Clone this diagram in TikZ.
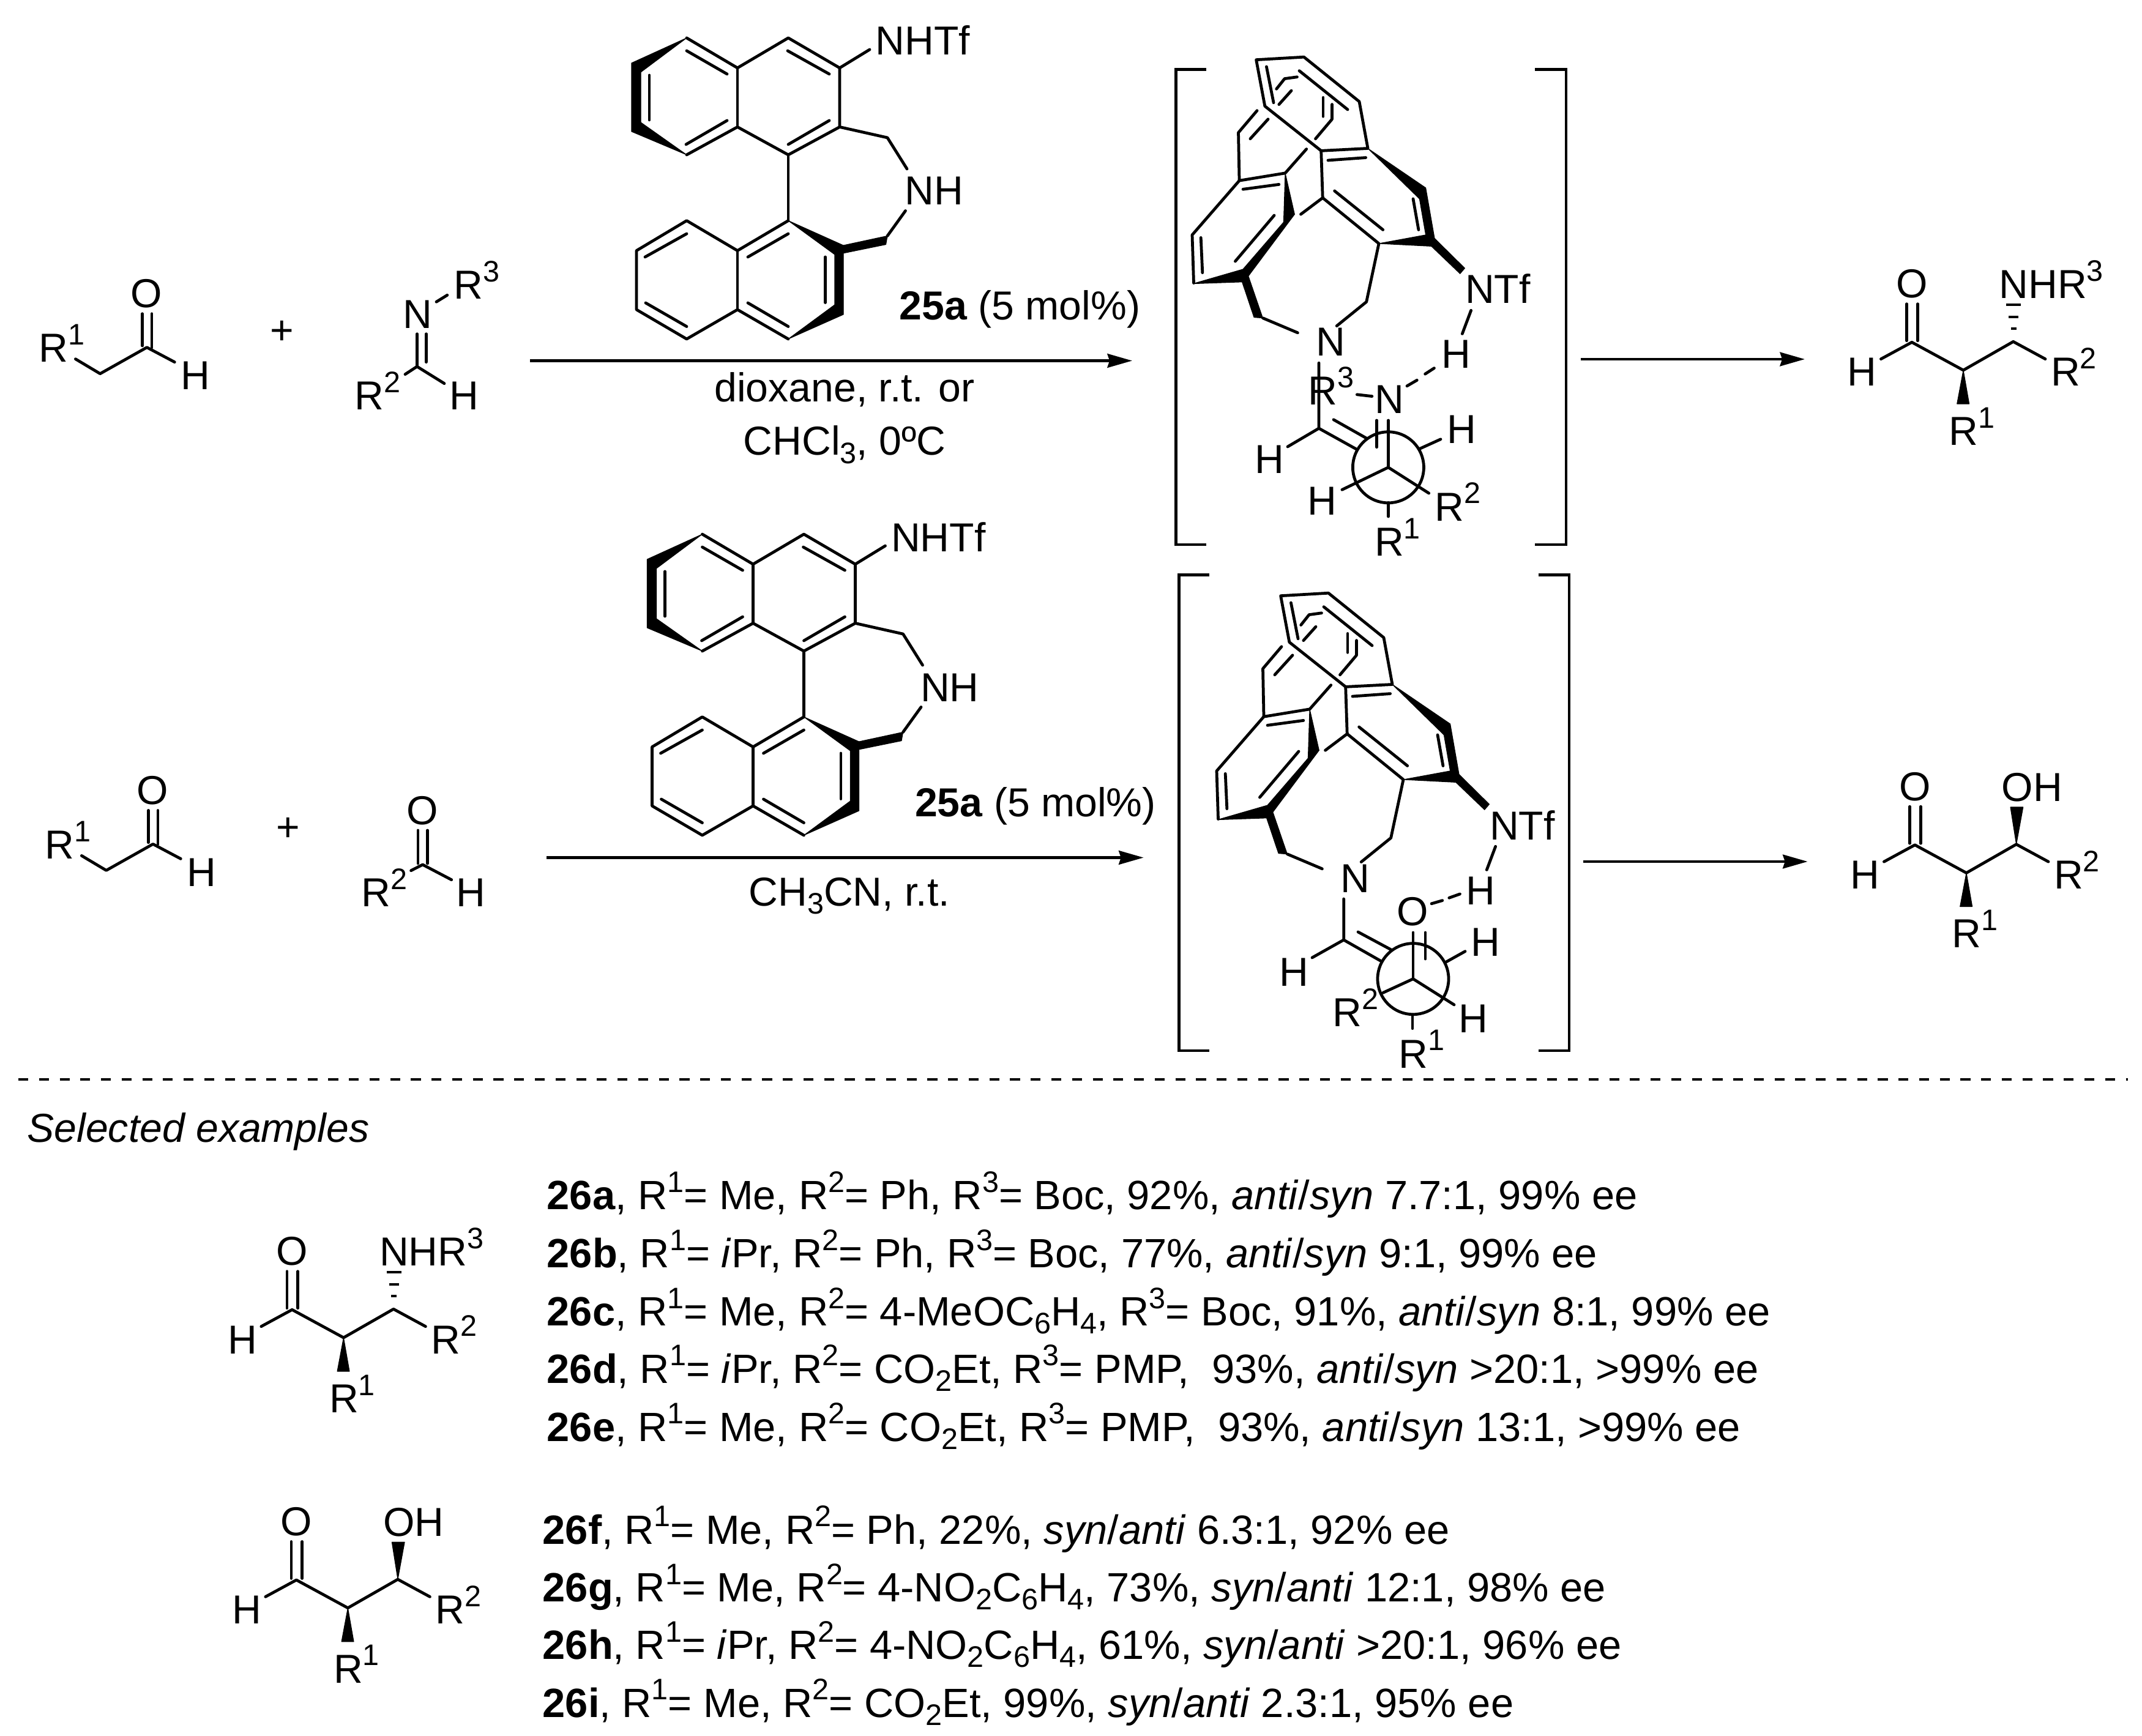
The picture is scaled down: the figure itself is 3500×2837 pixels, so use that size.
\documentclass[tikz,border=0pt]{standalone}
\usepackage{fontspec}
\setmainfont{Liberation Sans}
\usetikzlibrary{arrows.meta}

\newcommand{\up}[1]{\raisebox{8pt}{\fontsize{13.8}{14}\selectfont #1}}
\newcommand{\dn}[1]{\raisebox{-3.7pt}{\fontsize{13.8}{14}\selectfont #1}}

\tikzset{
  bond/.style={line width=1.35pt, line cap=round, line join=round},
  bold/.style={fill=black, draw=black, line width=0.3pt, line join=round},
  hash/.style={line width=1.1pt},
  brk/.style={line width=1.4pt},
  arr/.style={line width=1.35pt, -{Stealth[length=11.5pt, width=6.4pt, inset=1pt]}},
  lab/.style={inner sep=0pt, anchor=base west, font=\fontsize{18.8}{22}\selectfont},
  labc/.style={lab, anchor=base},
  labx/.style={lab, font=\fontsize{19}{22}\selectfont},
  newman/.style={circle, draw, line width=1.35pt, inner sep=0pt, minimum size=1.16cm}
}

% catalyst, drawn where the first one stands
\newcommand{\catalyst}{
\coordinate (a1) at (1122,62); \coordinate (a2) at (1205,111); \coordinate (a3) at (1288,62); \coordinate (a4) at (1372,111);
\coordinate (a5) at (1372,207.5); \coordinate (a6) at (1288,253); \coordinate (a7) at (1205,207.5); \coordinate (a8) at (1122,253);
\coordinate (a9) at (1040,207.5); \coordinate (a10) at (1040,111); \coordinate (ch1) at (1450,225);
\coordinate (b1) at (1288,360.6); \coordinate (b2) at (1205,409.6); \coordinate (b3) at (1122,360.6); \coordinate (b4) at (1040,409.6);
\coordinate (b5) at (1040,506); \coordinate (b6) at (1122,554); \coordinate (b7) at (1205,506); \coordinate (b8) at (1288,554);
\coordinate (ch2) at (1450,385.5);
\node[lab] (nhtf) at (1430,90) {NHTf};
\node[lab] (nh) at (1478,335) {NH};
\node[lab] (load) at (1469,523) {\textbf{25a} (5 mol\%)};
\coordinate (nhtfb) at (1421,81); \coordinate (nhu) at (1482,276); \coordinate (nhd) at (1479.5,344.5);
\fill[bold] (a1) -- (1032,103) -- (1032,215) -- (a8) -- (1047,200) -- (1047,118) -- cycle;
\fill[bold] (b1) -- (1378,401) -- (1378,514) -- (b8) -- (1364,498) -- (1364,416) -- cycle;
\fill[bold] (1378,401) -- (ch2) -- (1447.5,399.6) -- (1377,414) -- cycle;
\draw[bond] (a1) -- (a2) -- (a3) -- (a4) -- (a5) -- (a6) -- (a7) -- (a8);
\draw[bond] (a2) -- (a7); \draw[bond] (a4) -- (nhtfb); \draw[bond] (a5) -- (ch1) -- (nhu); \draw[bond] (a6) -- (b1);
\draw[bond] (nhd) -- (ch2);
\draw[bond] (b1) -- (b2) -- (b3) -- (b4) -- (b5) -- (b6) -- (b7) -- (b8);
\draw[bond] (b2) -- (b7);
\draw[bond] (1122,83) -- (1188,121); \draw[bond] (1287,83) -- (1355,121); \draw[bond] (1061,123) -- (1061,196);
\draw[bond] (1121,236) -- (1188,197); \draw[bond] (1288,236) -- (1355,197);
\draw[bond] (1054,420) -- (1122,382); \draw[bond] (1222,420) -- (1288,382); \draw[bond] (1348.4,420) -- (1348.4,494.5);
\draw[bond] (1055,495) -- (1122,533.6); \draw[bond] (1222,495) -- (1288,533.6);
}

% cage and tether of the intermediate, down to N and the NH of NTf
\newcommand{\cage}{
\coordinate (t1) at (2052.6,97.7); \coordinate (t2) at (2130.6,93.2); \coordinate (t3) at (2221,166);
\coordinate (t4) at (2235,242.5); \coordinate (t5) at (2158.7,246.4); \coordinate (t6) at (2066.8,173.5);
\coordinate (u1) at (2161.2,323.3); \coordinate (u2) at (2253,398); \coordinate (u3) at (2232.7,493.3); \coordinate (nu) at (2184.2,532.6);
\coordinate (v1) at (2054,180.8); \coordinate (v2) at (2023.5,216.7); \coordinate (v3) at (2025,295.2); \coordinate (v4) at (2100,282.9);
\coordinate (v5) at (2134.7,243.6); \coordinate (v6) at (1948,383.9); \coordinate (v7) at (1950.5,462.5);
\coordinate (w1) at (2063.3,519.7); \coordinate (nw) at (2120.4,543.8);
\coordinate (ntfd) at (2403.6,507.4); \coordinate (hu) at (2389.3,545.5);
\node[lab] (n) at (2149.6,582) {N};
\node[lab] (ntf) at (2393.5,496) {NTf};
\node[lab] (h) at (2355,602) {H};
\fill[bold] (t4) -- (2329.6,307) -- (2344,389.5) -- (2393.4,438.3) -- (2385.7,447.3) -- (2338.8,402.4) -- (u2) -- (2329.6,383.9) -- (2319.4,325) -- cycle;
\fill[bold] (2115.3,350.2) -- (2039.8,451.2) -- (w1) -- (2049,518.6) -- (2029.6,460.8) -- (1949.5,463.6) -- (2031,440) -- (2097.4,363.1) -- (v4) -- cycle;
\draw[bond] (t1) -- (t2) -- (t3) -- (t4) -- (t5) -- (t6) -- cycle;
\draw[bond] (2069.4,109) -- (2081,167.8); \draw[bond] (2123,115.7) -- (2202,179);
\draw[bond] (2085.7,145.4) -- (2099,128.6) -- (2119.4,125.8); \draw[bond] (2089.8,170.7) -- (2110,148.2);
\draw[bond] (2162,159.4) -- (2162,190.3); \draw[bond] (2176.5,170.6) -- (2176.5,194.8) -- (2149.5,226.8);
\draw[bond] (v1) -- (v2) -- (v3) -- (v4) -- (v5); \draw[bond] (2072,194.8) -- (2042.9,226.8);
\draw[bond] (2031,309.3) -- (2089.8,301.4); \draw[bond] (v3) -- (v6) -- (v7);
\draw[bond] (1962.2,388.4) -- (1964.8,445.6); \draw[bond] (2082,352) -- (2018.4,427);
\draw[bond] (t5) -- (u1) -- (2125.5,350.2); \draw[bond] (u1) -- (u2) -- (u3) -- (nu); \draw[bond] (w1) -- (nw);
\draw[bond] (2180.6,312) -- (2259.7,375.5); \draw[bond] (2170,262) -- (2231.6,257.6); \draw[bond] (2309,325) -- (2317.9,375.5);
\draw[bond] (ntfd) -- (hu);
}

% beta-functionalised aldehyde without its group on C3
\newcommand{\aldol}{
\coordinate (c1) at (3123.9,559.3); \coordinate (c2) at (3208,605); \coordinate (c3) at (3289.6,558.3);
\coordinate (hb) at (3073.4,586.7); \coordinate (r2b) at (3342,586.7);
\node[labc] (o) at (3124,486.5) {O};
\node[lab] (h) at (3018,631) {H};
\node[lab] (r2) at (3350.4,631) {R\up{2}};
\node[lab] (r1) at (3184,727.3) {R\up{1}};
\fill[bold] (c2) -- (3217.6,660) -- (3197.7,660) -- cycle;
\draw[bond] (hb) -- (c1) -- (c2) -- (c3) -- (r2b);
\draw[bond] (3115.5,496.7) -- (3115.5,556.7); \draw[bond] (3133.4,496.7) -- (3133.4,556.7);
}
\newcommand{\aldolamine}{
\aldol
\node[lab] (nhr) at (3266,487.3) {NHR\up{3}};
\draw[hash] (3278.4,497.7) -- (3302.4,497.7); \draw[hash] (3282.4,518.3) -- (3298.4,518.3); \draw[hash] (3285.8,537.3) -- (3295,537.3);
}
\newcommand{\aldolol}{
\aldol
\node[lab] (oh) at (3265,487.8) {OH};
\fill[bold] (c3) -- (3300.7,497.5) -- (3280,497.5) -- cycle;
}

\begin{document}
\begin{tikzpicture}[x=0.01cm, y=-0.01cm]
\useasboundingbox (0,0) rectangle (3500,2837);

% first row
\node[lab] (ra) at (63,591.7) {R\up{1}};
\node[labc] (oa) at (239.4,502.5) {O};
\node[lab] (ha) at (295,636.7) {H};
\coordinate (ca1) at (123.4,586.7); \coordinate (ca2) at (163.6,610.7); \coordinate (ca3) at (240,567.7); \coordinate (ca4) at (285.3,591.7);
\draw[bond] (ca1) -- (ca2) -- (ca3) -- (ca4);
\draw[bond] (232.5,512.7) -- (232.5,565); \draw[bond] (248,512.7) -- (248,568);
\node[labc] (plusa) at (461,562.6) {+};
\node[lab] (im) at (658,536.7) {N};
\node[lab] (imr3) at (741,488.3) {R\up{3}};
\node[lab] (imr2) at (579,670) {R\up{2}};
\node[lab] (imh) at (734,670) {H};
\coordinate (ib1) at (713,493.3); \coordinate (ib2) at (730.8,482.3); \coordinate (ic) at (681.4,599); \coordinate (ib3) at (662,611.7); \coordinate (ib4) at (726,626.7);
\draw[bond] (ib1) -- (ib2); \draw[bond] (ib3) -- (ic) -- (ib4);
\draw[bond] (681.4,545.7) -- (681.4,598.3); \draw[bond] (696.3,545.7) -- (696.3,591.7);
\catalyst
\coordinate (ar1s) at (866,589.5); \coordinate (ar1e) at (1850,589.5);
\draw[arr] (ar1s) -- (ar1e);
\node[labc] (cona) at (1380,656.7) {dioxane, r.t. or};
\node[labc] (conb) at (1380,744) {CHCl\dn{3}, 0ºC};

\draw[brk] (1971,113.4) -- (1921.4,113.4) -- (1921.4,890) -- (1971,890);
\draw[brk] (2508,113.4) -- (2559,113.4) -- (2559,890) -- (2508,890);
\cage
\node[lab] (ts1n) at (2245.5,675.7) {N};
\node[lab] (ts1r) at (2137,661.7) {R\up{3}};
\node[lab] (ts1ha) at (2050,774) {H};
\node[lab] (ts1hb) at (2364,725) {H};
\node[lab] (ts1hc) at (2136,841) {H};
\node[lab] (ts1r2) at (2344,851) {R\up{2}};
\node[lab] (ts1r1) at (2245.5,908.6) {R\up{1}};
\node[newman] (ts1nm) at (2268.4,763.8) {};
\coordinate (ts1c) at (2155,700); \coordinate (ts1d) at (2155,593.2); \coordinate (ts1e) at (2104,730); \coordinate (ts1f) at (2217.3,734.6);
\draw[bond] (ts1d) -- (ts1c) -- (ts1e); \draw[bond] (ts1c) -- (ts1f); \draw[bond] (2179,685.8) -- (2233.7,716.7);
\draw[bond] (2249.5,687) -- (2249.5,730.7);
\draw[bond] (2217.3,644.8) -- (2241.8,647.6);
\draw[bond] (2343.4,601.6) -- (2328.6,611.2); \draw[bond] (2315.3,621.3) -- (2299,630.8);
\draw[bond] (ts1nm.center) -- (2268.4,687); \draw[bond] (ts1nm.center) -- (2334.7,806); \draw[bond] (ts1nm.center) -- (2192.9,800.3);
\draw[bond] (2319.4,733.5) -- (2354,717.8); \draw[bond] (2268.4,821.6) -- (2268.4,844);

\coordinate (ar3s) at (2583,587); \coordinate (ar3e) at (2949,587);
\draw[arr] (ar3s) -- (ar3e);
\begin{scope}[name prefix=pa-]
\aldolamine
\end{scope}

% second row
\begin{scope}[shift={(10,811.7)}, name prefix=rb-]
\node[lab] (ra) at (63,591.7) {R\up{1}};
\node[labc] (oa) at (239.4,502.5) {O};
\node[lab] (ha) at (295,636.7) {H};
\coordinate (ca1) at (123.4,586.7); \coordinate (ca2) at (163.6,610.7); \coordinate (ca3) at (240,567.7); \coordinate (ca4) at (285.3,591.7);
\draw[bond] (ca1) -- (ca2) -- (ca3) -- (ca4);
\draw[bond] (232.5,512.7) -- (232.5,565); \draw[bond] (248,512.7) -- (248,568);
\end{scope}
\node[labc] (plusb) at (470.7,1374.3) {+};
\node[labc] (alo) at (690.6,1347) {O};
\node[lab] (alr2) at (590,1481.7) {R\up{2}};
\node[lab] (alh) at (745,1481.7) {H};
\coordinate (alc) at (690.6,1413); \coordinate (alb) at (671.6,1422.7); \coordinate (ald) at (737.7,1437.7);
\draw[bond] (alb) -- (alc) -- (ald);
\draw[bond] (683,1357) -- (683,1411); \draw[bond] (698.6,1357) -- (698.6,1411);
\begin{scope}[shift={(25.5,811)}, name prefix=cb-]
\catalyst
\end{scope}
\coordinate (ar2s) at (893,1401.5); \coordinate (ar2e) at (1868.6,1401.5);
\draw[arr] (ar2s) -- (ar2e);
\node[lab] (conc) at (1223,1480) {CH\dn{3}CN, r.t.};

\draw[brk] (1975.6,939.5) -- (1926.3,939.5) -- (1926.3,1717) -- (1975.6,1717);
\draw[brk] (2513.7,939.5) -- (2564,939.5) -- (2564,1717) -- (2513.7,1717);
\begin{scope}[shift={(40,876)}, name prefix=tb-]
\cage
\end{scope}
\node[labc] (ts2o) at (2308.5,1512.5) {O};
\node[lab] (ts2ha) at (2090,1611) {H};
\node[lab] (ts2hb) at (2403,1562.6) {H};
\node[lab] (ts2hc) at (2383,1687) {H};
\node[lab] (ts2r2) at (2177,1677.5) {R\up{2}};
\node[lab] (ts2r1) at (2285,1745) {R\up{1}};
\node[newman] (ts2nm) at (2309,1599.7) {};
\coordinate (ts2c) at (2195.6,1536); \coordinate (ts2d) at (2195.6,1469); \coordinate (ts2e) at (2144,1565); \coordinate (ts2f) at (2256.3,1570.5);
\draw[bond] (ts2d) -- (ts2c) -- (ts2e); \draw[bond] (ts2c) -- (ts2f); \draw[bond] (2219,1523) -- (2273,1552);
\draw[bond] (2329,1524) -- (2329,1567);
\draw[bond] (2385.5,1461) -- (2367.8,1467.3); \draw[bond] (2356.8,1471.6) -- (2339,1476.8);
\draw[bond] (ts2nm.center) -- (2309,1524); \draw[bond] (ts2nm.center) -- (2376,1642); \draw[bond] (ts2nm.center) -- (2259.7,1622.4);
\draw[bond] (2363,1572) -- (2394,1554.7); \draw[bond] (2308,1658) -- (2308,1680.7);

\coordinate (ar4s) at (2587,1408); \coordinate (ar4e) at (2953.6,1408);
\draw[arr] (ar4s) -- (ar4e);
\begin{scope}[shift={(5,821.5)}, name prefix=pb-]
\aldolol
\end{scope}

% examples
\coordinate (dla) at (30,1764); \coordinate (dlb) at (3477,1764);
\draw[line width=1.2pt, dash pattern=on 4.6pt off 5pt] (dla) -- (dlb);
\node[lab] (sel) at (44,1866) {\itshape Selected examples};
\begin{scope}[shift={(-2646.6,1581)}, name prefix=pc-]
\aldolamine
\end{scope}
\begin{scope}[shift={(-2639.6,2022.7)}, name prefix=pd-]
\aldolol
\end{scope}
\node[labx] (ea) at (893,1976.7) {\textbf{26a}, R\up{1}= Me, R\up{2}= Ph, R\up{3}= Boc, 92\%, \emph{anti}/\emph{syn} 7.7:1, 99\% ee};
\node[labx] (eb) at (893,2071.7) {\textbf{26b}, R\up{1}= \emph{i}Pr, R\up{2}= Ph, R\up{3}= Boc, 77\%, \emph{anti}/\emph{syn} 9:1, 99\% ee};
\node[labx] (ec) at (893,2166.7) {\textbf{26c}, R\up{1}= Me, R\up{2}= 4-MeOC\dn{6}H\dn{4}, R\up{3}= Boc, 91\%, \emph{anti}/\emph{syn} 8:1, 99\% ee};
\node[labx] (ed) at (893,2260) {\textbf{26d}, R\up{1}= \emph{i}Pr, R\up{2}= CO\dn{2}Et, R\up{3}= PMP,\ \ 93\%, \emph{anti}/\emph{syn} >20:1, >99\% ee};
\node[labx] (ee) at (893,2355) {\textbf{26e}, R\up{1}= Me, R\up{2}= CO\dn{2}Et, R\up{3}= PMP,\ \ 93\%, \emph{anti}/\emph{syn} 13:1, >99\% ee};
\node[labx] (ef) at (886,2523) {\textbf{26f}, R\up{1}= Me, R\up{2}= Ph, 22\%, \emph{syn}/\emph{anti} 6.3:1, 92\% ee};
\node[labx] (eg) at (886,2617.7) {\textbf{26g}, R\up{1}= Me, R\up{2}= 4-NO\dn{2}C\dn{6}H\dn{4}, 73\%, \emph{syn}/\emph{anti} 12:1, 98\% ee};
\node[labx] (eh) at (886,2711.7) {\textbf{26h}, R\up{1}= \emph{i}Pr, R\up{2}= 4-NO\dn{2}C\dn{6}H\dn{4}, 61\%, \emph{syn}/\emph{anti} >20:1, 96\% ee};
\node[labx] (ei) at (886,2806) {\textbf{26i}, R\up{1}= Me, R\up{2}= CO\dn{2}Et, 99\%, \emph{syn}/\emph{anti} 2.3:1, 95\% ee};
\end{tikzpicture}
\end{document}
